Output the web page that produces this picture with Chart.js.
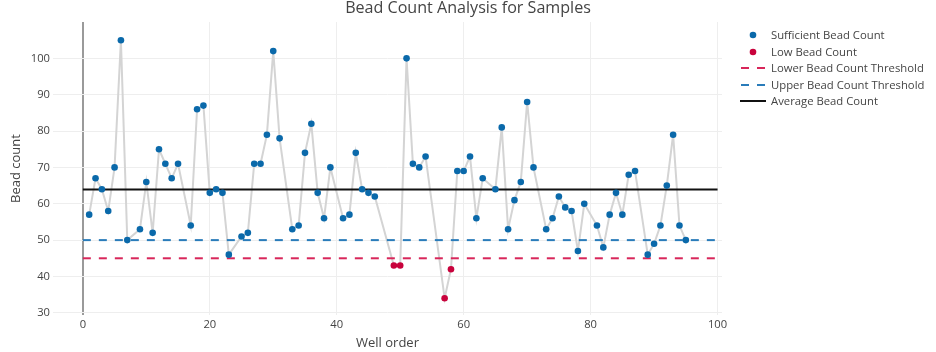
<!DOCTYPE html>
<html><head><meta charset="utf-8">
<script src="https://cdn.jsdelivr.net/npm/chart.js@4"></script>
<style>
html,body{margin:0;padding:0;background:#fff;}
#wrap{position:relative;width:936px;height:352px;overflow:hidden;font-family:"Open Sans",sans-serif;color:#444;}
canvas{position:absolute;left:0;top:0;}
#title{position:absolute;left:0;width:936px;text-align:center;top:-1px;font-size:16.1px;line-height:16px;white-space:nowrap;}
#legend{position:absolute;left:0;top:0;}
.row{position:absolute;left:738px;height:16px;width:198px;font-size:11.3px;line-height:16px;white-space:nowrap;}
.row svg{position:absolute;left:0;top:0;}
.row span{position:absolute;left:33px;top:0;}
</style></head>
<body>
<div id="wrap">
<canvas id="c" width="936" height="352"></canvas>
<div id="title">Bead Count Analysis for Samples</div>
<div id="legend"></div>
</div>
<script>
const wellOrder = [1,2,3,4,5,6,7,9,10,11,12,13,14,15,17,18,19,20,21,22,23,25,26,27,28,29,30,31,33,34,35,36,37,38,39,41,42,43,44,45,46,49,50,51,52,53,54,57,58,59,60,61,62,63,65,66,67,68,69,70,71,73,74,75,76,77,78,79,81,82,83,84,85,86,87,89,90,91,92,93,94,95];
const beadCount = [57,67,64,58,70,105,50,53,66,52,75,71,67,71,54,86,87,63,64,63,46,51,52,71,71,79,102,78,53,54,74,82,63,56,70,56,57,74,64,63,62,43,43,100,71,70,73,34,42,69,69,73,56,67,64,81,53,61,66,88,70,53,56,62,59,58,47,60,54,48,57,63,57,68,69,46,49,54,65,79,54,50];
const lowerThreshold = 45;
const upperThreshold = 50;
const averageCount = 63.9;
const lineXRange = [0, 100];
const xTicks = [0,20,40,60,80,100];
const yTicks = [30,40,50,60,70,80,90,100];
const legendLabels = ['Sufficient Bead Count','Low Bead Count','Lower Bead Count Threshold','Upper Bead Count Threshold','Average Bead Count'];

const C_SUFF = '#0a69aa', C_LOW = '#c8023c', C_LOWT = '#d8265a', C_UPT = '#2a7cba', C_AVG = '#111111', C_CONN = '#d4d4d4';

const allPts = wellOrder.map((x,i)=>({x:x,y:beadCount[i]}));
const suffPts = allPts.filter(p=>p.y>=lowerThreshold);
const lowPts = allPts.filter(p=>p.y<lowerThreshold);
const hLine = v => lineXRange.map(x=>({x:x,y:v}));

const font = {family:'"Open Sans"', size:11.2};
const titleFont = {family:'"Open Sans"', size:13};
new Chart(document.getElementById('c'), {
  type:'scatter',
  data:{datasets:[
    {data:allPts, showLine:true, borderColor:C_CONN, borderWidth:2, pointRadius:0, order:3},
    {data:hLine(lowerThreshold), showLine:true, borderColor:C_LOWT, borderWidth:2, borderDash:[8,8], pointRadius:0, order:2},
    {data:hLine(upperThreshold), showLine:true, borderColor:C_UPT, borderWidth:2, borderDash:[8,8], pointRadius:0, order:2},
    {data:hLine(averageCount), showLine:true, borderColor:C_AVG, borderWidth:2, pointRadius:0, order:2},
    {data:suffPts, showLine:false, pointRadius:3.3, pointBackgroundColor:C_SUFF, pointBorderColor:C_SUFF, pointBorderWidth:0, order:0},
    {data:lowPts, showLine:false, pointRadius:3.3, pointBackgroundColor:C_LOW, pointBorderColor:C_LOW, pointBorderWidth:0, order:0}
  ]},
  options:{
    responsive:false, animation:false,
    layout:{padding:{left:0,right:214,top:22,bottom:0}},
    plugins:{legend:{display:false}, tooltip:{enabled:false}, title:{display:false}},
    scales:{
      x:{type:'linear', min:-4.7, max:100.7,
        afterBuildTicks:s=>{s.ticks = xTicks.map(v=>({value:v}));},
        afterFit:s=>{s.height = 37;},
        grid:{color:c=>(c.tick&&c.tick.value===0)?'#9a9a9a':'#eeeeee', lineWidth:c=>(c.tick&&c.tick.value===0)?2:1, drawTicks:false},
        border:{display:false},
        ticks:{padding:3, color:'#444', font:font, maxRotation:0, autoSkip:false},
        title:{display:true, text:'Well order', color:'#444', font:titleFont, padding:{top:0,bottom:0.5}}
      },
      y:{type:'linear', min:29.4, max:110,
        afterBuildTicks:s=>{s.ticks = yTicks.map(v=>({value:v}));},
        afterFit:s=>{s.width = 53;},
        grid:{color:'#eeeeee', lineWidth:1, drawTicks:false},
        border:{display:false},
        ticks:{padding:3, color:'#444', font:font},
        title:{display:true, text:'Bead count', color:'#444', font:titleFont, padding:{top:8,bottom:0}}
      }
    }
  }
});

// legend
const legendYs = [35, 51.5, 68, 84.5, 101];
const icons = [
  `<circle cx="15" cy="8" r="3.3" fill="${C_SUFF}"/>`,
  `<circle cx="15" cy="8" r="3.3" fill="${C_LOW}"/>`,
  `<line x1="2" y1="8" x2="28" y2="8" stroke="${C_LOWT}" stroke-width="2" stroke-dasharray="8,8" stroke-dashoffset="-1"/>`,
  `<line x1="2" y1="8" x2="28" y2="8" stroke="${C_UPT}" stroke-width="2" stroke-dasharray="8,8" stroke-dashoffset="-1"/>`,
  `<line x1="2" y1="8" x2="28" y2="8" stroke="${C_AVG}" stroke-width="2"/>`
];
const lg = document.getElementById('legend');
legendLabels.forEach((t,i)=>{
  const d = document.createElement('div');
  d.className='row';
  d.style.top = (legendYs[i]-8)+'px';
  d.innerHTML = `<svg width="32" height="16">${icons[i]}</svg><span></span>`;
  d.querySelector('span').textContent = t;
  lg.appendChild(d);
});
</script>
</body></html>
